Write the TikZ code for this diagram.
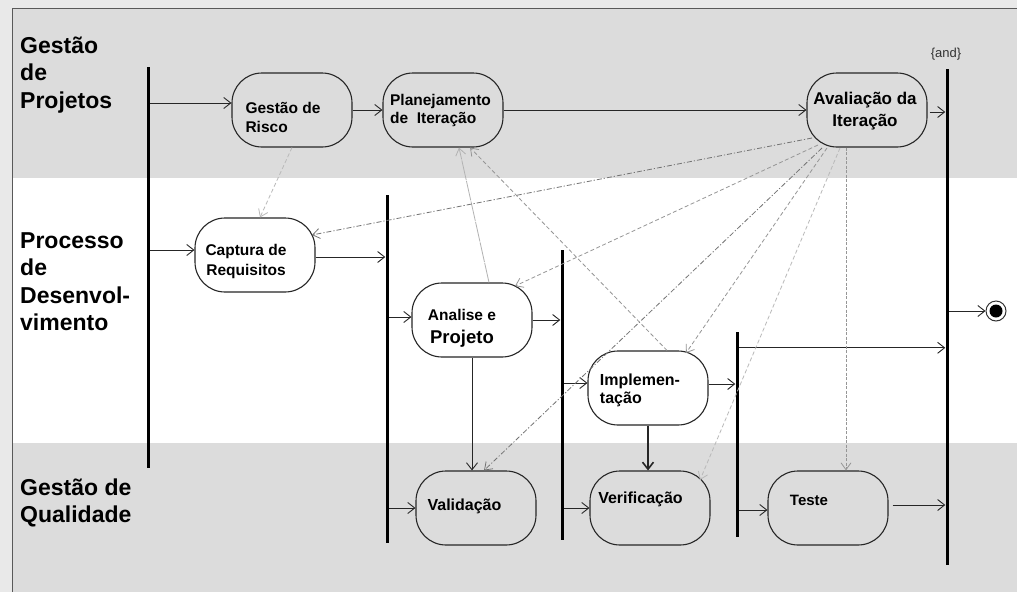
\documentclass[tikz,border=0pt]{standalone}
\usepackage{fontspec}
\setmainfont{Liberation Sans}
\usetikzlibrary{arrows.meta,calc}

\definecolor{lanegray}{RGB}{220,220,220}
\definecolor{outergray}{RGB}{233,233,233}
\definecolor{linkgray}{RGB}{150,150,150}

\begin{document}
\begin{tikzpicture}[x=1pt,y=-1pt,
  act/.style={draw=black!85, line width=1.1pt, rounded corners=30pt,
    minimum width=120pt, minimum height=74pt, inner sep=0pt},
  acttext/.style={font=\fontsize{15.5}{19}\selectfont\bfseries, inner sep=0pt},
  bar/.style={fill=black, inner sep=0pt, minimum width=3pt},
  flow/.style={draw=black!85, line width=0.9pt, -{Straight Barb[length=7pt,width=11pt]}},
  link/.style={draw=linkgray, line width=0.8pt, dash pattern=on 4pt off 2.5pt,
    -{Straight Barb[length=7pt,width=10pt]}},
  linkdd/.style={link, draw=black!55, dash pattern=on 5pt off 2pt on 1.2pt off 2pt},
  lane/.style={font=\fontsize{23}{27.5}\selectfont\bfseries, inner sep=0pt, anchor=base west}
]
\useasboundingbox (0,0) rectangle (1017,592);

% swimlane backgrounds
\fill[outergray] (0,0) rectangle (1017,592);
\fill[lanegray] (12,9) rectangle (1017,178);
\fill[white] (12,178) rectangle (1017,443);
\fill[lanegray] (12,443) rectangle (1017,592);
\draw[black!65, line width=1.2pt] (1017,8.5) -- (12.5,8.5) -- (12.5,592);

% lane titles
\node[lane] (lanepm) at (20,53) {\parbox[t]{140pt}{\raggedright Gestão\\de\\Projetos}};
\node[lane] (lanedev) at (20,248) {\parbox[t]{140pt}{\raggedright Processo\\de\\Desenvol-\\vimento}};
\node[lane] (laneqa) at (20,495) {\parbox[t]{140pt}{\raggedright Gestão de\\Qualidade}};

% fork / join bars
\node[bar, minimum height=401pt] (bar1) at (148,267.5) {};
\node[bar, minimum height=348pt] (bar2) at (387,369) {};
\node[bar, minimum height=290pt] (bar3) at (562,395) {};
\node[bar, minimum height=205pt] (bar4) at (737,434.5) {};
\node[bar, minimum height=496pt] (bar5) at (947,317) {};
\node[font=\fontsize{13}{15}\selectfont, text=black!80, inner sep=0pt] (andlbl) at (946,54) {\{and\}};

% activities
\node[act, label={[acttext, align=left, shift={(-9,7)}]center:Gestão de\\Risco}] (risco) at (292,110) {};
\node[act, label={[acttext, font=\fontsize{15.5}{18}\selectfont\bfseries, align=left, shift={(-2.5,0)}]center:Planejamento\\de\ \ Iteração}] (plan) at (443,110) {};
\node[act, label={[acttext, font=\fontsize{17}{22}\selectfont\bfseries, align=center, shift={(-2,1.5)}]center:Avaliação da\\Iteração}] (aval) at (867,110) {};
\node[act, label={[acttext, font=\fontsize{15.5}{20}\selectfont\bfseries, align=center, shift={(-9,6)}]center:Captura de\\Requisitos}] (capt) at (255,255) {};
\node[act, label={[acttext, font=\fontsize{15.5}{23}\selectfont\bfseries, align=center, shift={(-10,8)}]center:Analise e\\\fontsize{18.5}{23}\selectfont Projeto}] (anal) at (472,320) {};
\node[act, label={[acttext, font=\fontsize{16}{18}\selectfont\bfseries, align=left, shift={(-8,2)}]center:Implemen-\\tação}] (impl) at (648,388) {};
\node[act, label={[acttext, font=\fontsize{16}{19}\selectfont\bfseries, shift={(-11.5,-2)}]center:Validação}] (vali) at (476,508) {};
\node[act, label={[acttext, font=\fontsize{16}{19}\selectfont\bfseries, shift={(-9.5,-9)}]center:Verificação}] (veri) at (650,508) {};
\node[act, label={[acttext, font=\fontsize{15}{19}\selectfont\bfseries, shift={(-19,-7.5)}]center:Teste}] (teste) at (828,508) {};

% final state
\node[circle, draw=black!80, line width=1pt, minimum size=20pt, inner sep=0pt] (fin) at (996,311) {};
\node[circle, fill=black, minimum size=13pt, inner sep=0pt] (fincore) at (fin.center) {};

% control flow
\draw[flow] ($(risco.west -| bar1.east)+(0,-7)$) -- ($(risco.west)+(0,-7)$);
\draw[flow] (risco.east) -- (plan.west);
\draw[flow] (plan.east) -- (aval.west);
\draw[flow] ($(aval.east)+(2,2)$) -- ($(aval.east -| bar5.west)+(0,2)$);
\draw[flow] ($(capt.west -| bar1.east)+(0,-5)$) -- ($(capt.west)+(0,-5)$);
\draw[flow] ($(capt.east)+(0,2)$) -- ($(capt.east -| bar2.west)+(0,2)$);
\draw[flow] ($(anal.west -| bar2.east)+(0,-3)$) -- ($(anal.west)+(0,-3)$);
\draw[flow] (anal.east) -- (anal.east -| bar3.west);
\draw[flow] ($(impl.west -| bar3.east)+(0,-5)$) -- ($(impl.west)+(0,-5)$);
\draw[flow] ($(impl.east)+(0,-4)$) -- ($(impl.east -| bar4.west)+(0,-4)$);
\coordinate (j4) at ($(bar4.north east)+(0,16)$);
\draw[flow] (j4) -- (j4 -| bar5.west);
\draw[flow] (fin.west -| bar5.east) -- (fin.west);
\draw[flow] (anal.south) -- (anal.south |- vali.north);
\draw[flow, line width=1.6pt] (impl.south) -- (impl.south |- veri.north);
\draw[flow] (vali.west -| bar2.east) -- (vali.west);
\draw[flow] (veri.west -| bar3.east) -- (veri.west);
\draw[flow] ($(teste.west -| bar4.east)+(0,2)$) -- ($(teste.west)+(0,2)$);
\draw[flow] ($(teste.east)+(4,-3)$) -- ($(teste.east -| bar5.west)+(0,-3)$);

% feedback and dependency links
\draw[link, draw=gray!55] (risco.south) -- ([xshift=5pt]capt.north);
\draw[link, draw=gray!60, dash pattern=on 20pt off 1pt] ([xshift=17pt]anal.north) -- ([xshift=16pt]plan.south);
\draw[link] ([xshift=19pt]impl.north) -- ([xshift=27pt]plan.south);
\draw[linkdd] ([shift={(-55,28)}]aval.center) -- ([shift={(57,-20)}]capt.center);
\draw[link] ([shift={(-49,35)}]aval.center) -- ([shift={(43,-34)}]anal.center);
\draw[linkdd] ([shift={(-45,38)}]aval.center) -- ([xshift=8pt]vali.north);
\draw[link] ([shift={(-40,38)}]aval.center) -- ([shift={(38,-35)}]impl.center);
\draw[link, draw=gray!55] ([shift={(-27,38)}]aval.center) -- ([shift={(50,-28)}]veri.center);
\draw[link, dash pattern=on 3pt off 1.5pt] ([xshift=-21pt]aval.south) -- ([xshift=18pt]teste.north);
\end{tikzpicture}
\end{document}
